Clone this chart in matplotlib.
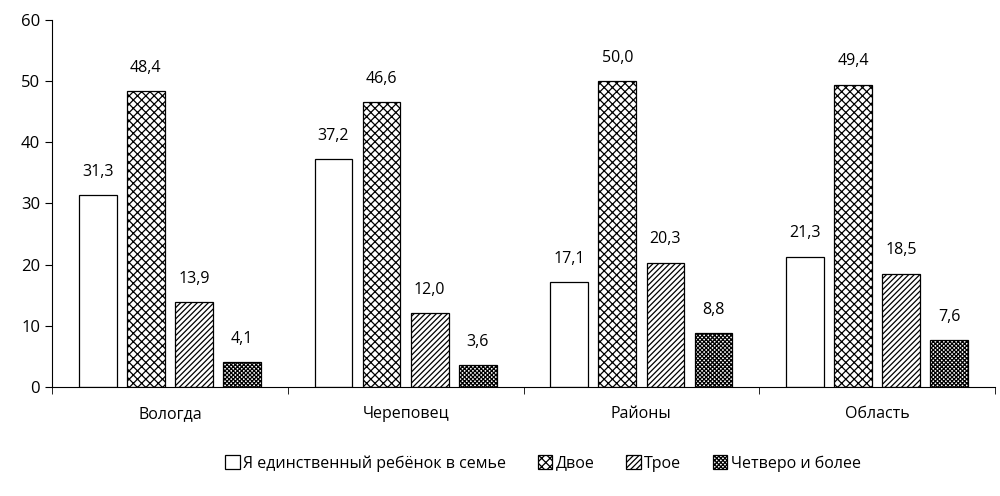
import matplotlib.pyplot as plt
import numpy as np

plt.rcParams['font.family'] = ['Open Sans', 'DejaVu Sans']
plt.rcParams['hatch.linewidth'] = 0.9

cities = ["Вологда", "Череповец", "Районы", "Область"]
one = [31.3, 37.2, 17.1, 21.3]
two = [48.4, 46.6, 50.0, 49.4]
three = [13.9, 12.0, 20.3, 18.5]
four = [4.1, 3.6, 8.8, 7.6]
names = ["Я единственный ребёнок в семье", "Двое", "Трое", "Четверо и более"]

series = [one, two, three, four]
hatches = ["", "xxxx", "//////", "xxxxxxxx"]

fig, ax = plt.subplots(figsize=(10, 4.96), dpi=100)
fig.subplots_adjust(left=0.052, right=0.995, bottom=0.22, top=0.96)

x = np.arange(len(cities))
w = 0.16
step = 0.204
for i, vals in enumerate(series):
    pos = x + (i - 1.5) * step
    bars = ax.bar(pos, vals, w, color="white", edgecolor="black", linewidth=0.9,
                  hatch=hatches[i], label=names[i])
    for b, v in zip(bars, vals):
        ax.text(b.get_x() + b.get_width() / 2, v + 2.5, f"{v:.1f}".replace(".", ","),
                ha="center", va="bottom", fontsize=11.5)

ax.set_xlim(-0.5, 3.5)
ax.set_ylim(0, 60)
ax.set_yticks(range(0, 61, 10))
ax.set_xticks(x)
ax.set_xticklabels(cities, fontsize=11.5)
ax.set_xticks(np.arange(-0.5, 3.6, 1), minor=True)
ax.tick_params(axis="x", which="major", length=0, pad=14)
ax.tick_params(axis="x", which="minor", length=5, direction="out")
ax.tick_params(axis="y", labelsize=12, length=5, direction="out")
ax.spines["top"].set_visible(False)
ax.spines["right"].set_visible(False)

fig.legend(loc="center", bbox_to_anchor=(0.543, 0.066), ncol=4, frameon=False,
           fontsize=11.5, handlelength=0.9, handleheight=0.9, handletextpad=0.2,
           columnspacing=2.0)

plt.savefig("out.png", dpi=100)
